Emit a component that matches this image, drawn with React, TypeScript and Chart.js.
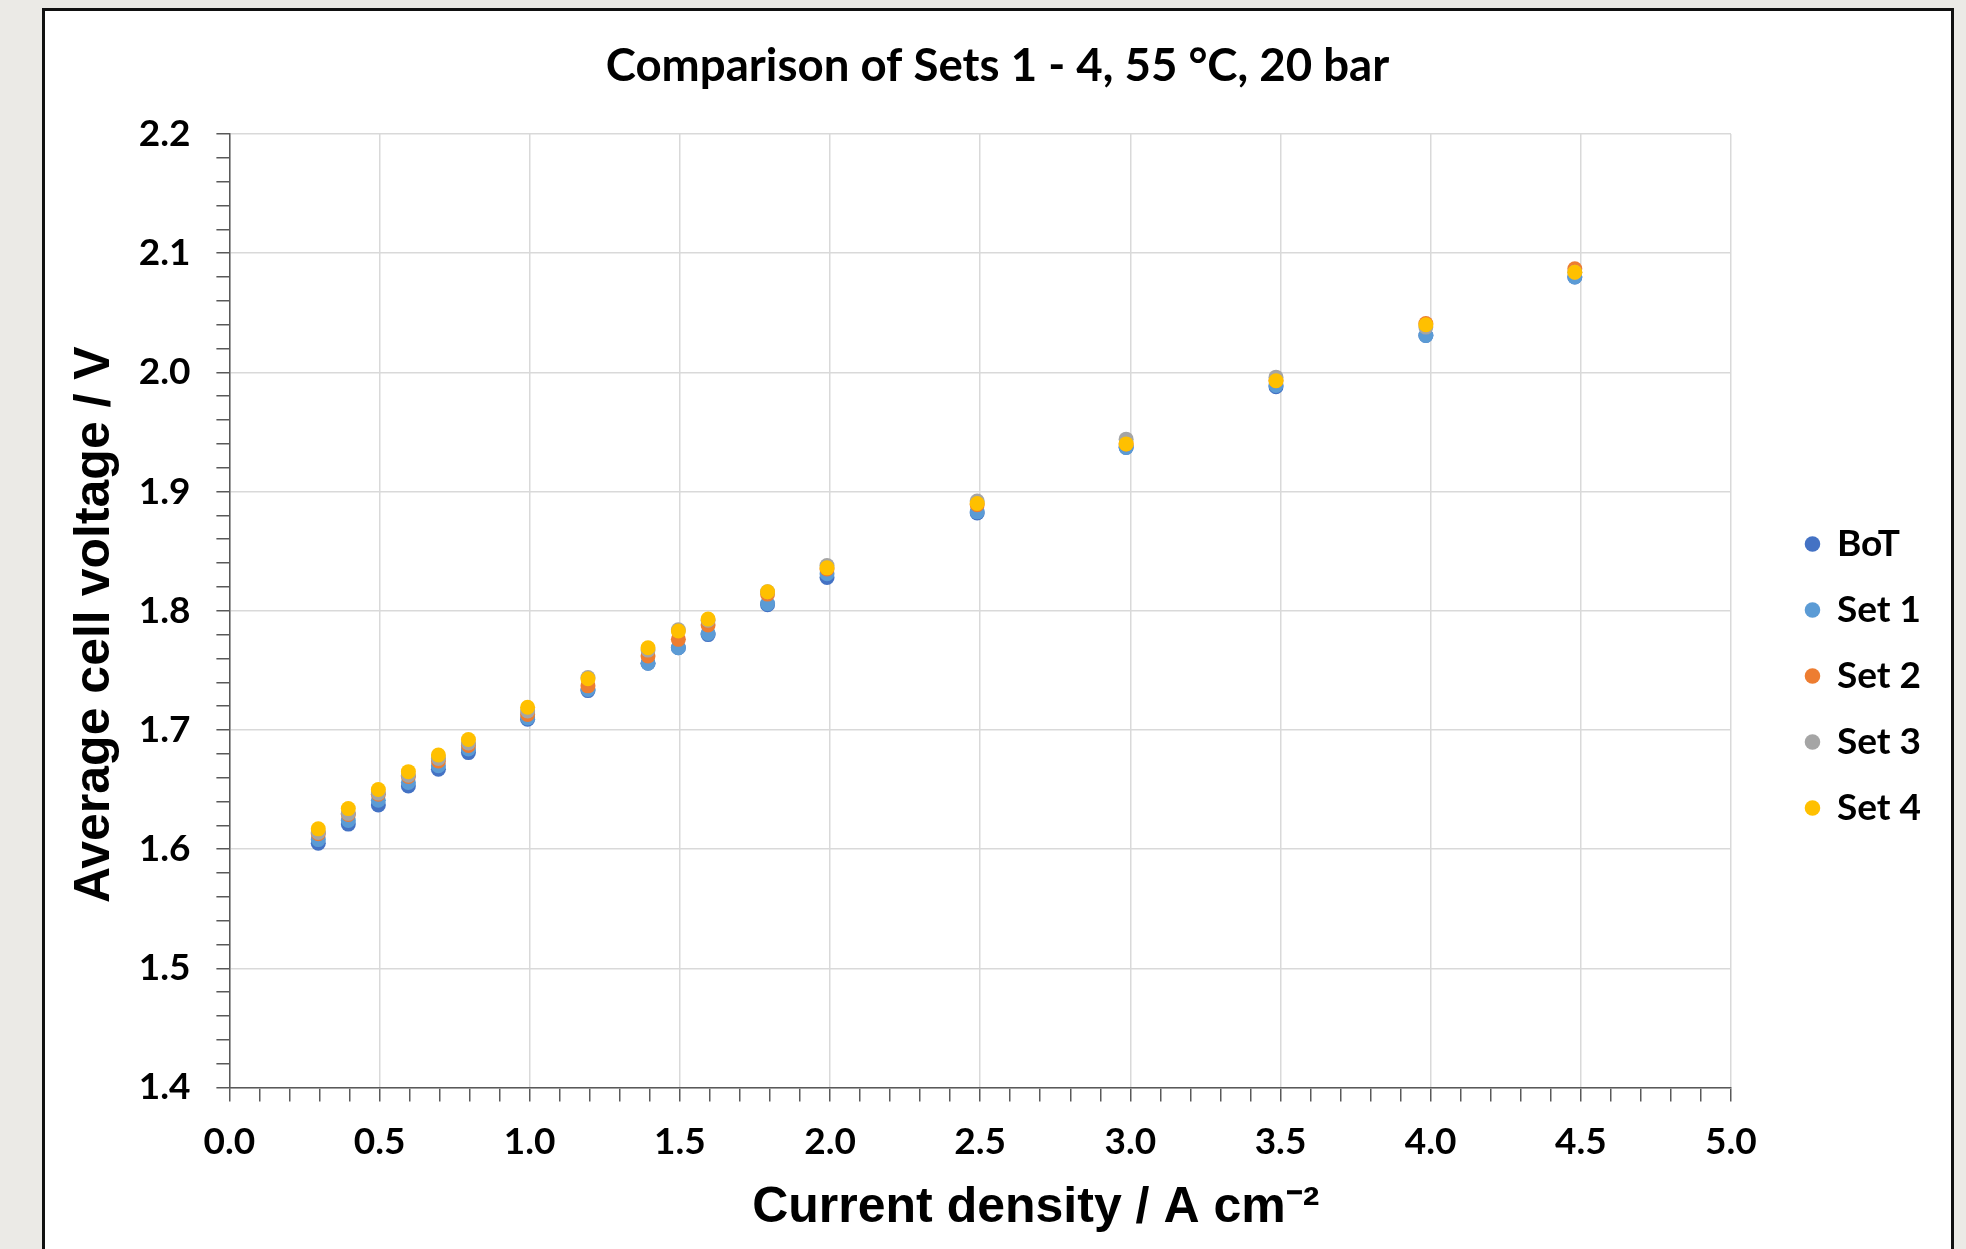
import React, { useEffect, useRef } from 'react';
import { Chart, registerables } from 'chart.js';

Chart.register(...registerables);

// Current density (A cm^-2) of each measuring point
const currentDensity = [0.296, 0.396, 0.496, 0.596, 0.696, 0.796, 0.993, 1.194, 1.394, 1.495, 1.594, 1.792, 1.99, 2.49, 2.986, 3.485, 3.984, 4.48];

// Average cell voltage (V) per series
const botVoltage = [1.605, 1.621, 1.637, 1.653, 1.667, 1.681, 1.709, 1.733, 1.756, 1.769, 1.78, 1.805, 1.828, 1.882, 1.937, 1.988, 2.031, 2.08];
const set1Voltage = [1.608, 1.624, 1.641, 1.656, 1.67, 1.684, 1.71, 1.734, 1.756, 1.769, 1.781, 1.806, 1.831, 1.883, 1.937, 1.989, 2.031, 2.08];
const set2Voltage = [1.613, 1.629, 1.646, 1.661, 1.674, 1.687, 1.713, 1.737, 1.762, 1.776, 1.788, 1.814, 1.835, 1.889, 1.94, 1.993, 2.041, 2.087];
const set3Voltage = [1.614, 1.63, 1.647, 1.662, 1.676, 1.689, 1.716, 1.744, 1.767, 1.784, 1.792, 1.816, 1.838, 1.892, 1.944, 1.996, 2.038, 2.084];
const set4Voltage = [1.617, 1.634, 1.65, 1.665, 1.679, 1.692, 1.719, 1.743, 1.769, 1.783, 1.793, 1.816, 1.836, 1.89, 1.94, 1.993, 2.04, 2.084];

const seriesNames = ['BoT', 'Set 1', 'Set 2', 'Set 3', 'Set 4'];
const seriesColors = ['#4472C4', '#5B9BD5', '#ED7D31', '#A5A5A5', '#FFC000'];
const seriesValues = [botVoltage, set1Voltage, set2Voltage, set3Voltage, set4Voltage];

const chartTitle = 'Comparison of Sets 1 - 4, 55 \u00B0C, 20 bar';
const xTitle = 'Current density / A cm\u207B\u00B2';
const yTitle = 'Average cell voltage / V';

const xMin = 0, xMax = 5, xStep = 0.1;
const yMin = 1.4, yMax = 2.2, yStep = 0.02;

const GRID = '#d9d9d9';
const AXIS = '#595959';

export default function App() {
  const ref = useRef<HTMLCanvasElement>(null);

  useEffect(() => {
    const canvas = ref.current;
    if (!canvas) return;
    const datasets = seriesNames.map((name, i) => ({
      label: name,
      data: currentDensity.map((x, j) => ({ x, y: seriesValues[i][j] })),
      backgroundColor: seriesColors[i],
      borderColor: seriesColors[i],
      pointRadius: 7.5,
      pointBorderWidth: 0,
      pointHoverRadius: 7.5,
      showLine: false,
      order: seriesNames.length - i,
    }));

    const chart = new Chart(canvas, {
      type: 'scatter',
      data: { datasets },
      options: {
        animation: false,
        responsive: false,
        maintainAspectRatio: false,
        events: [],
        layout: { padding: { top: 0, left: 64, right: 35, bottom: 0 } },
        plugins: {
          tooltip: { enabled: false },
          title: {
            display: true,
            text: chartTitle,
            color: '#000',
            font: { family: 'Lato', size: 45.6, weight: 'bold', lineHeight: 1.2 },
            padding: { top: 38.6, bottom: 40.7 },
          },
          legend: {
            display: true,
            position: 'right',
            labels: {
              usePointStyle: true,
              pointStyle: 'circle',
              boxWidth: 12,
              boxHeight: 11,
              padding: 29,
              color: '#000',
              font: { family: 'Lato', size: 37, weight: 'bold' },
              sort: (a: any, b: any) => a.datasetIndex - b.datasetIndex,
            },
          },
        },
        scales: {
          x: {
            type: 'linear',
            position: 'bottom',
            min: xMin,
            max: xMax,
            afterFit: (s: any) => { s.height = 264.5; },
            ticks: {
              stepSize: xStep,
              maxTicksLimit: 1000,
              autoSkip: false,
              maxRotation: 0,
              padding: 18,
              color: '#000',
              font: { family: 'Lato', size: 37, weight: 'bold' },
              callback: (v: any) => (Math.round(Number(v) * 10) % 5 === 0 ? Number(v).toFixed(1) : ''),
            },
            grid: {
              color: (c: any) => (Math.round(c.tick.value * 10) % 5 === 0 ? GRID : 'rgba(0,0,0,0)'),
              tickColor: AXIS,
              lineWidth: 1.5,
              tickLength: 14,
            },
            border: { color: AXIS, width: 1.5 },
            title: {
              display: true,
              text: '        ' + xTitle,
              color: '#000',
              font: { family: 'Liberation Sans', size: 50, weight: 'bold', lineHeight: 1.2 },
              padding: { top: 0, bottom: 113.5 },
            },
          },
          y: {
            type: 'linear',
            position: 'left',
            min: yMin,
            max: yMax,
            afterFit: (s: any) => { s.width = 165.4; },
            ticks: {
              stepSize: yStep,
              maxTicksLimit: 1000,
              autoSkip: false,
              padding: 26,
              color: '#000',
              font: { family: 'Lato', size: 37, weight: 'bold' },
              callback: (v: any) => (Math.round(Number(v) * 100) % 10 === 0 ? Number(v).toFixed(1) : ''),
            },
            grid: {
              color: (c: any) => (Math.round(c.tick.value * 100) % 10 === 0 ? GRID : 'rgba(0,0,0,0)'),
              tickColor: AXIS,
              lineWidth: 1.5,
              tickLength: 13,
            },
            border: { color: AXIS, width: 1.5 },
            title: {
              display: true,
              text: yTitle + '  ',
              color: '#000',
              font: { family: 'Liberation Sans', size: 50, weight: 'bold', lineHeight: 1.2 },
              padding: { top: 1.5, bottom: 0 },
            },
          },
          gap: {
            type: 'linear',
            position: 'right',
            display: true,
            afterFit: (s: any) => { s.width = 46.5; },
            ticks: { display: false },
            grid: { display: false, drawTicks: false },
            border: { display: false },
          },
        },
      } as any,
    });
    return () => chart.destroy();
  }, []);

  return (
    <div style={{ position: 'fixed', left: 0, top: 0, width: '100vw', height: '100vh', overflow: 'hidden', background: '#ebeae6' }}>
      <div style={{ position: 'absolute', left: 42, top: 8, width: 1906, height: 1400, border: '3px solid #111', background: '#fff' }} />
      <canvas ref={ref} width={1966} height={1352} style={{ position: 'absolute', left: 0, top: 0, width: 1966, height: 1352, display: 'block' }} />
    </div>
  );
}
